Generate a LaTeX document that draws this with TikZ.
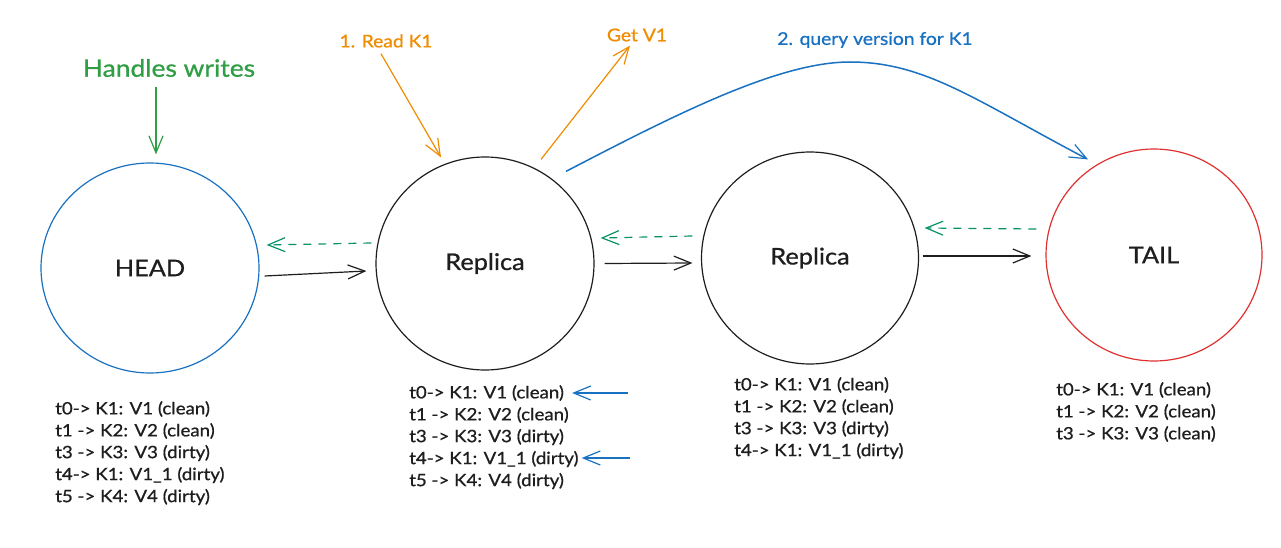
\documentclass[tikz,border=0pt]{standalone}
\usepackage{fontspec}
\setmainfont{Lato}[FakeStretch=1.1,FakeBold=0.8]
\usetikzlibrary{shapes.geometric,arrows.meta}
\definecolor{cgreen}{HTML}{2F9E44}
\definecolor{cteal}{HTML}{099268}
\definecolor{corange}{HTML}{F08C00}
\definecolor{cblue}{HTML}{1971C2}
\definecolor{cred}{HTML}{E03131}
\definecolor{cink}{HTML}{1E1E1E}
\begin{document}
\begin{tikzpicture}[x=1pt,y=-1pt,
  circ/.style={ellipse, draw, line width=1.2pt, inner sep=0pt,
    font=\fontsize{23}{27}\selectfont, text=cink},
  tip/.style={-{Straight Barb[length=17pt,width=14pt,line width=1.2pt]}},
  arr/.style={tip, line width=1.2pt, draw=cink},
  dsh/.style={tip, line width=1.2pt, draw=cteal, dash pattern=on 8pt off 7pt},
  lst/.style={anchor=west, inner sep=0pt, text=cink,
    font=\fontsize{17}{20}\selectfont},
  lbl/.style={inner sep=0pt, font=\fontsize{17.5}{21}\selectfont}]
\useasboundingbox (0,0) rectangle (1281,548);
\fill[white] (0,0) rectangle (1281,548);

% nodes
\node[circ, draw=cblue, minimum width=218pt, minimum height=210pt] (HEAD) at (150,268) {HEAD};
\node[circ, draw=cink, minimum width=218pt, minimum height=213pt] (R1) at (485,263.5) {Replica};
\node[circ, draw=cink, minimum width=217pt, minimum height=212pt] (R2) at (810,258) {Replica};
\node[circ, draw=cred, minimum width=216pt, minimum height=212pt] (TAIL) at (1154,255) {TAIL};

% labels
\node[inner sep=0pt, text=cgreen, font=\fontsize{24}{28}\selectfont] (hw) at (169,68) {Handles writes};
\node[lbl, text=corange] (rk) at (386,41) {1. Read K1};
\node[lbl, text=corange] (gv) at (637,35) {Get V1};
\node[lbl, text=cblue] (qv) at (875,40) {2. query version for K1};

% chain arrows
\draw[arr] ([xshift=5pt,yshift=-8pt]HEAD.east) -- ([xshift=-9pt,yshift=-7.5pt]R1.west);
\draw[dsh] ([xshift=-4pt,yshift=20.5pt]R1.west) -- ([xshift=7pt,yshift=23pt]HEAD.east);
\draw[arr] ([xshift=10pt]R1.east) -- ([xshift=-8.5pt,yshift=-5pt]R2.west);
\draw[dsh] ([xshift=-8.5pt,yshift=22pt]R2.west) -- ([xshift=6pt,yshift=25.5pt]R1.east);
\draw[arr] ([xshift=3.5pt,yshift=2pt]R2.east) -- ([xshift=-14pt,yshift=-1pt]TAIL.west);
\draw[dsh] ([xshift=-9pt,yshift=26pt]TAIL.west) -- ([xshift=5.5pt,yshift=30pt]R2.east);

% write arrow
\draw[tip, line width=1.2pt, draw=cgreen] ([xshift=-13pt,yshift=-10pt]hw.south) -- ([xshift=6pt,yshift=8pt]HEAD.north);

% read arrows
\draw[tip, line width=1.2pt, draw=corange] ([xshift=-5pt,yshift=-6pt]rk.south) -- ([xshift=-44pt,yshift=-1pt]R1.north);
\draw[tip, line width=1.2pt, draw=corange] ([xshift=56pt,yshift=-3pt]R1.north) -- ([xshift=-7pt,yshift=-4pt]gv.south);

% query curve
\coordinate (peak) at (850,62);
\draw[tip, line width=1.5pt, draw=cblue] ([xshift=81pt,yshift=-15pt]R1.north)
  .. controls (680,112) and (780,62) .. (peak)
  .. controls (925,62) and (975,100) .. ([xshift=-66pt,yshift=-11pt]TAIL.north);

% lists
\node[lst] (h1) at (55,409) {t0-> K1: V1 (clean)};
\node[lst] (h2) at (55,431) {t1 -> K2: V2 (clean)};
\node[lst] (h3) at (55,453) {t3 -> K3: V3 (dirty)};
\node[lst] (h4) at (55,475) {t4-> K1: V1\_1 (dirty)};
\node[lst] (h5) at (55,497) {t5 -> K4: V4 (dirty)};

\node[lst] (a1) at (409,393) {t0-> K1: V1 (clean)};
\node[lst] (a2) at (409,415) {t1 -> K2: V2 (clean)};
\node[lst] (a3) at (409,437) {t3 -> K3: V3 (dirty)};
\node[lst] (a4) at (409,459) {t4-> K1: V1\_1 (dirty)};
\node[lst] (a5) at (409,481) {t5 -> K4: V4 (dirty)};

\node[lst] (b1) at (734,385) {t0-> K1: V1 (clean)};
\node[lst] (b2) at (734,407) {t1 -> K2: V2 (clean)};
\node[lst] (b3) at (734,429) {t3 -> K3: V3 (dirty)};
\node[lst] (b4) at (734,451) {t4-> K1: V1\_1 (dirty)};

\node[lst] (c1) at (1056,390) {t0-> K1: V1 (clean)};
\node[lst] (c2) at (1056,412) {t1 -> K2: V2 (clean)};
\node[lst] (c3) at (1056,434) {t3 -> K3: V3 (clean)};

% pointer arrows
\coordinate (p1) at (628,393);
\coordinate (p2) at (630,458);
\draw[tip, line width=1.3pt, draw=cblue] (p1) -- ([xshift=8pt]a1.east);
\draw[tip, line width=1.3pt, draw=cblue] (p2) -- ([xshift=3pt,yshift=1pt]a4.east);
\end{tikzpicture}
\end{document}
